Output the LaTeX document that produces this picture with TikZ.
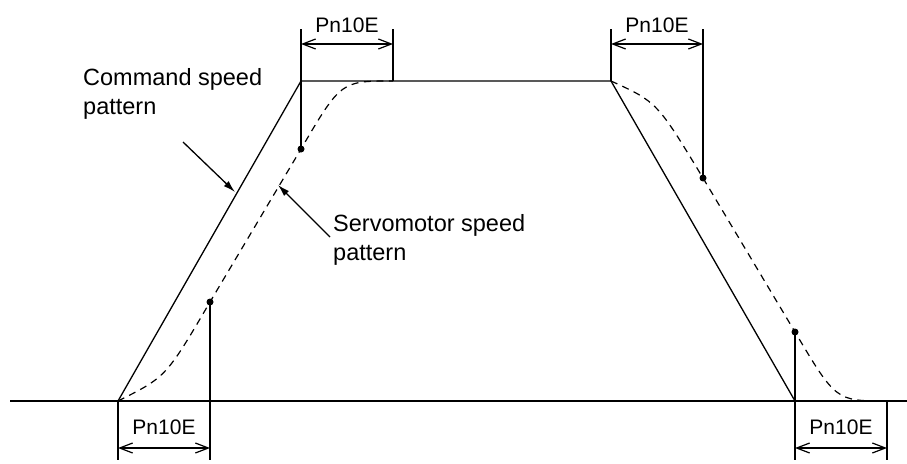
\documentclass[tikz,border=0pt]{standalone}
\usepackage{fontspec}
\setmainfont{Liberation Sans}
\usetikzlibrary{arrows.meta, positioning, calc}

\begin{document}
\begin{tikzpicture}[
  x=1pt, y=-1pt,
  cmdline/.style   = {line width=1.3pt, line join=miter},
  servoline/.style = {line width=1.2pt, dash pattern=on 7pt off 5.5pt},
  extline/.style   = {line width=1.3pt},
  dimarrow/.style  = {{Straight Barb[length=13pt,width=10pt]}-{Straight Barb[length=13pt,width=10pt]},
                      line width=1.2pt},
  pointer/.style   = {-{Latex[length=12pt,width=7pt]}, line width=1.3pt},
  dimlabel/.style  = {font=\fontsize{21}{25}\selectfont, anchor=base, inner sep=0pt},
  callout/.style   = {font=\fontsize{23.5}{29}\selectfont, align=left,
                      anchor=base west, inner sep=0pt},
  dot/.style       = {circle, fill, inner sep=0pt, minimum size=7pt}
]
\useasboundingbox (0,0) rectangle (907,463);

%% Command speed pattern
\coordinate (start)    at (118,401);
\coordinate (accEnd)   at (301,81);
\coordinate (decStart) at (611,81);
\coordinate (stop)     at (795,401);
\coordinate (axisL)    at (10,401);
\coordinate (axisR)    at (907,401);

\draw[extline] (axisL) -- (axisR);
\draw[cmdline] (start) -- (accEnd) -- (decStart) -- (stop);

%% Servomotor speed pattern
\node[dot] (dotA) at (210,302) {};
\node[dot] (dotB) at (301,149) {};
\node[dot] (dotC) at (703,178) {};
\node[dot] (dotD) at (795,332) {};
\coordinate (servoTop)  at (393,81);
\coordinate (servoStop) at (887,401);

\draw[servoline] (start) .. controls (166,377) .. (dotA.center) -- (dotB.center)
  .. controls (341,81) .. (servoTop);
\draw[servoline] (decStart) .. controls (657,102) .. (dotC.center) -- (dotD.center)
  .. controls (836,401) .. (servoStop);

%% Extension lines
\coordinate (topA) at (301,29);
\coordinate (topB) at (393,29);
\coordinate (topC) at (611,29);
\coordinate (topD) at (703,29);
\coordinate (botA) at (118,460);
\coordinate (botB) at (210,460);
\coordinate (botC) at (795,460);
\coordinate (botD) at (887,460);

\draw[extline] (topA) -- (dotB.center);
\draw[extline] (topB) -- (servoTop);
\draw[extline] (topC) -- (decStart);
\draw[extline] (topD) -- (dotC.center);
\draw[extline] (start) -- (botA);
\draw[extline] (dotA.center) -- (botB);
\draw[extline] (dotD.center) -- (botC);
\draw[extline] (servoStop) -- (botD);

%% Dimensions
\draw[dimarrow] (301,44) -- (393,44);
\draw[dimarrow] (611,44) -- (703,44);
\draw[dimarrow] (118,448) -- (210,448);
\draw[dimarrow] (795,448) -- (887,448);

\node[dimlabel] (dimTL) at (347,32)  {Pn10E};
\node[dimlabel] (dimTR) at (657,32)  {Pn10E};
\node[dimlabel] (dimBL) at (164,434) {Pn10E};
\node[dimlabel] (dimBR) at (841,434) {Pn10E};

%% Labels
\node[callout] (cmdLabel) at (83,114) {Command speed\\pattern};
\node[callout] (servoLabel) at (333,260) {Servomotor speed\\pattern};

\coordinate (cmdTip)   at (235,192);
\coordinate (servoTip) at (278,185);
\draw[pointer] (183,142) -- (cmdTip);
\draw[pointer] (330,237) -- (servoTip);

\end{tikzpicture}
\end{document}
